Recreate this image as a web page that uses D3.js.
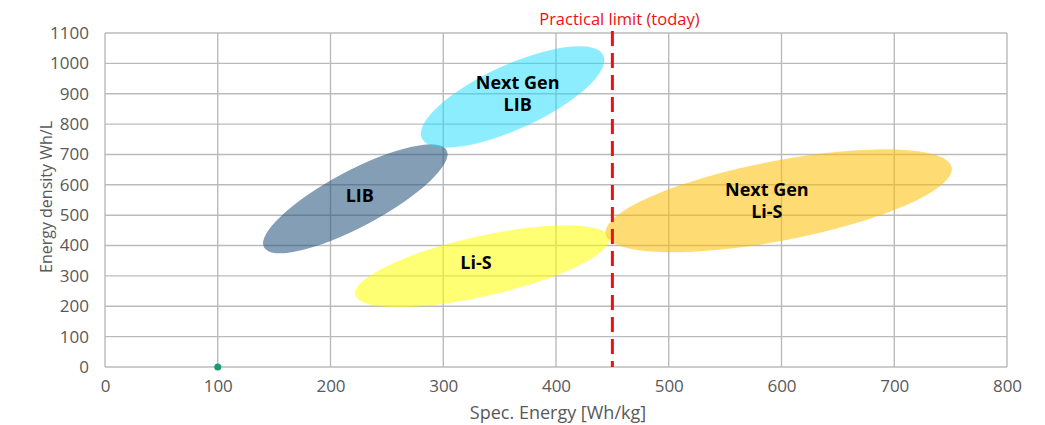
<!DOCTYPE html>
<html>
<head>
<meta charset="utf-8">
<script src="https://cdn.jsdelivr.net/npm/d3@7"></script>
<style>
  body { margin: 0; background: #fff; }
  text { font-family: "Open Sans", "Noto Sans", sans-serif; }
</style>
</head>
<body>
<div class="chart"></div>
<script>
// Data
var xTicks = [0, 100, 200, 300, 400, 500, 600, 700, 800];
var yTicks = [0, 100, 200, 300, 400, 500, 600, 700, 800, 900, 1000, 1100];

// ellipses: major axis end points in data units (Wh/kg, Wh/L)
var groups = ['LIB', 'Next Gen LIB', 'Li-S', 'Next Gen Li-S'];
var labelLines = [['LIB'], ['Next Gen', 'LIB'], ['Li-S'], ['Next Gen', 'Li-S']];
var axisStartX = [141, 281, 222, 444];
var axisStartY = [394, 753, 238, 438];
var axisEndX = [303, 442, 447, 751];
var axisEndY = [714, 1026, 426, 657];
var labelX = [226, 366, 329, 587];
var labelY = [562, 900, 342, 547];

var practicalLimit = 450;
var markerPoint = [100, 0];

// Styles
var fills = ['#1f4e79', '#1adcff', '#ffff00', '#ffc000'];
var opacities = [0.55, 0.5, 0.55, 0.55];
var minorRadius = [28, 32, 30, 40];

var margin = { top: 33, right: 38, bottom: 58, left: 105 };
var W = 1045, H = 425;
var width = W - margin.left - margin.right;
var height = H - margin.top - margin.bottom;

var svg = d3.select('.chart')
  .append('svg')
    .attr('width', W)
    .attr('height', H)
  .append('g')
    .attr('transform', 'translate(' + margin.left + ', ' + margin.top + ')');

var xScale = d3.scaleLinear().domain([0, 800]).range([0, width]);
var yScale = d3.scaleLinear().domain([0, 1100]).range([height, 0]);

// grid
svg.append('g')
  .selectAll('line')
  .data(yTicks)
  .enter()
  .append('line')
    .attr('x1', 0).attr('x2', width)
    .attr('y1', d => yScale(d)).attr('y2', d => yScale(d))
    .attr('stroke', '#bbbbbb').attr('stroke-width', 1.4);

svg.append('g')
  .selectAll('line')
  .data(xTicks)
  .enter()
  .append('line')
    .attr('y1', 0).attr('y2', height)
    .attr('x1', d => xScale(d)).attr('x2', d => xScale(d))
    .attr('stroke', '#bbbbbb').attr('stroke-width', 1.4);

// axes (labels only)
var xAxis = d3.axisBottom(xScale).tickValues(xTicks).tickSize(0).tickPadding(13);
var yAxis = d3.axisLeft(yScale).tickValues(yTicks).tickSize(0).tickPadding(16)
  .tickFormat(d3.format('d'));

svg.append('g')
  .attr('transform', `translate(0, ${height})`)
  .call(xAxis)
  .call(g => g.select('.domain').remove())
  .selectAll('text')
    .attr('fill', '#595959').style('font-size', '17px');

svg.append('g')
  .call(yAxis)
  .call(g => g.select('.domain').remove())
  .selectAll('text')
    .attr('fill', '#595959').style('font-size', '17px');

// ellipses
var ell = svg.append('g');
groups.forEach(function (name, i) {
  var x1 = xScale(axisStartX[i]), y1 = yScale(axisStartY[i]);
  var x2 = xScale(axisEndX[i]), y2 = yScale(axisEndY[i]);
  var cx = (x1 + x2) / 2, cy = (y1 + y2) / 2;
  var rx = Math.hypot(x2 - x1, y2 - y1) / 2;
  var angle = Math.atan2(y2 - y1, x2 - x1) * 180 / Math.PI;
  ell.append('ellipse')
    .attr('cx', 0).attr('cy', 0)
    .attr('rx', rx).attr('ry', minorRadius[i])
    .attr('transform', `translate(${cx}, ${cy}) rotate(${angle})`)
    .attr('fill', fills[i])
    .attr('fill-opacity', opacities[i]);
});

// practical limit line
svg.append('line')
  .attr('x1', xScale(practicalLimit)).attr('x2', xScale(practicalLimit))
  .attr('y1', -2).attr('y2', height)
  .attr('stroke', '#ee1111')
  .attr('stroke-width', 3)
  .attr('stroke-dasharray', '15,7');

svg.append('text')
  .attr('x', xScale(practicalLimit) + 7)
  .attr('y', -8)
  .attr('text-anchor', 'middle')
  .attr('fill', '#ee1111')
  .style('font-size', '16.5px')
  .text('Practical limit (today)');

// labels
groups.forEach(function (name, i) {
  var lines = labelLines[i];
  var t = svg.append('text')
    .attr('text-anchor', 'middle')
    .attr('font-weight', 'bold')
    .style('font-size', '18px')
    .attr('fill', '#000');
  lines.forEach(function (l, j) {
    t.append('tspan')
      .attr('x', xScale(labelX[i]))
      .attr('y', yScale(labelY[i]) + (j - (lines.length - 1) / 2) * 22 + 6)
      .text(l);
  });
});

// marker point
svg.append('circle')
  .attr('cx', xScale(markerPoint[0]))
  .attr('cy', yScale(markerPoint[1]))
  .attr('r', 3.5)
  .attr('fill', '#1a9a73');

// axis titles
svg.append('text')
  .attr('x', width / 2 + 2)
  .attr('y', height + 52)
  .attr('text-anchor', 'middle')
  .attr('fill', '#595959')
  .style('font-size', '18px')
  .text('Spec. Energy [Wh/kg]');

svg.append('text')
  .attr('transform', `translate(${-53}, ${height / 2 - 3}) rotate(-90)`)
  .attr('text-anchor', 'middle')
  .attr('fill', '#595959')
  .style('font-size', '16px')
  .text('Energy density Wh/L');
</script>
</body>
</html>
